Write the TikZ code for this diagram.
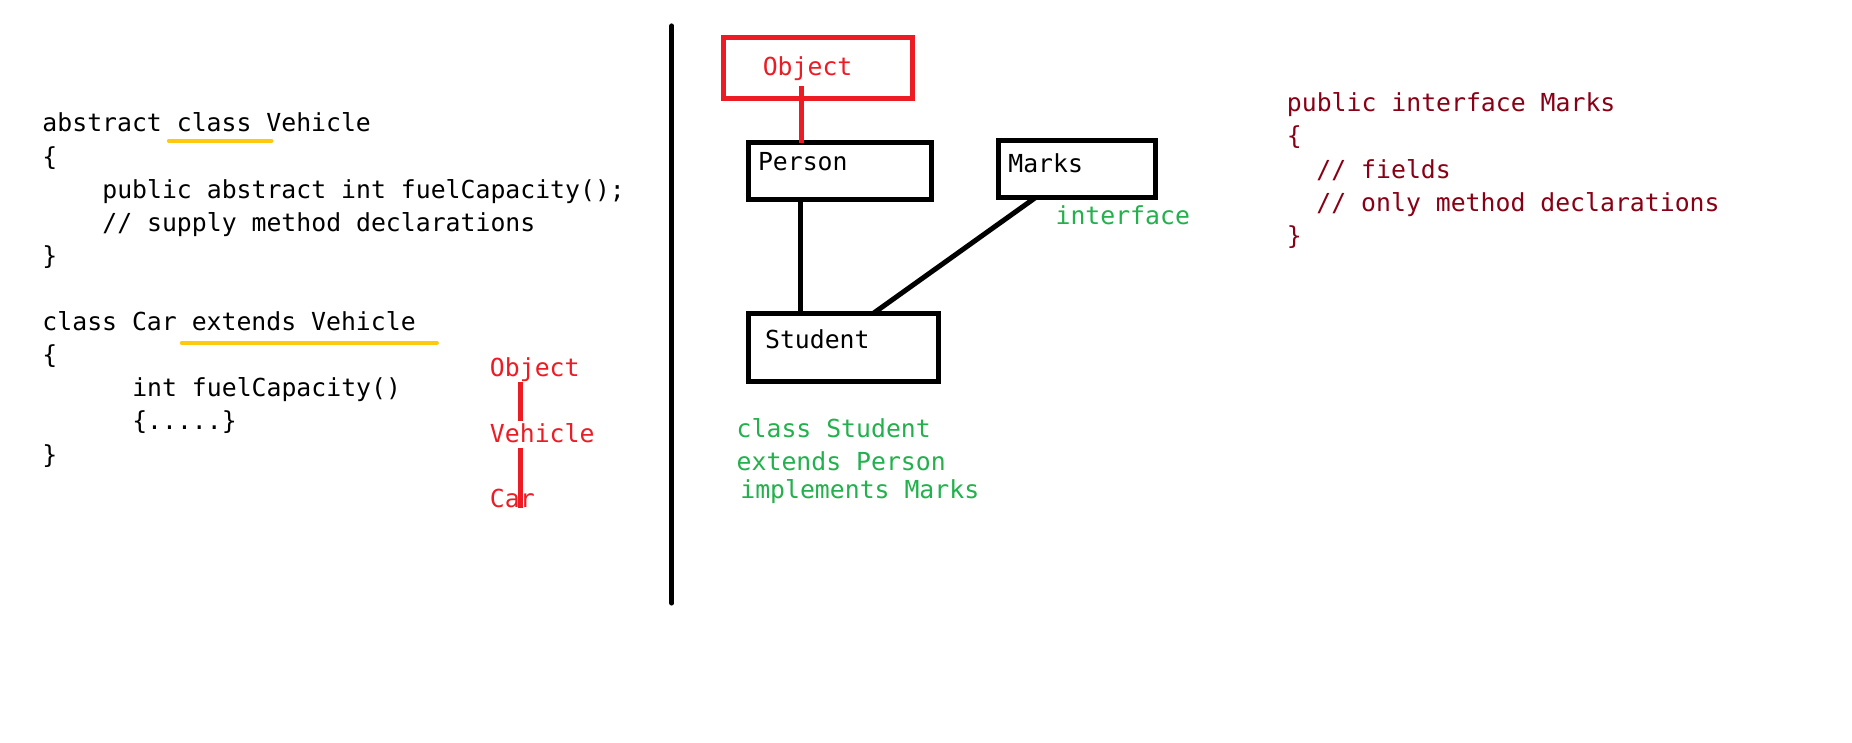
\documentclass[tikz,border=0pt]{standalone}
\usepackage{fontspec}
\setmainfont{DejaVu Sans Mono}
\definecolor{pred}{HTML}{ED1C24}
\definecolor{pgreen}{HTML}{22B14C}
\definecolor{pdark}{HTML}{880015}
\definecolor{pgold}{HTML}{FFC90E}
\begin{document}
\begin{tikzpicture}[x=1pt,y=-1pt,
  txt/.style={anchor=base west, inner sep=0pt, outer sep=0pt, font=\fontsize{24.8}{30}\selectfont},
  boxnode/.style={draw=black, line width=5pt, inner sep=0pt, outer sep=0pt},
  objbox/.style={draw=pred, line width=5pt, inner sep=0pt, outer sep=0pt},
  conn/.style={line width=5pt, black},
  redconn/.style={line width=4.5pt, pred},
  goldline/.style={line width=4pt, pgold, line cap=round}]
\useasboundingbox[fill=white] (0,0) rectangle (1852,743);
\begin{scope}[xscale=0.9945, yscale=0.996]
% left code
\node[txt] (l1) at (42.7,132.5) {abstract class Vehicle};
\node[txt] (l2) at (42.7,165.7) {\{};
\node[txt] (l3) at (102.9,199) {public abstract int fuelCapacity();};
\node[txt] (l4) at (102.9,232.2) {// supply method declarations};
\node[txt] (l5) at (42.7,265.4) {\}};
\node[txt] (l6) at (42.7,331.9) {class Car extends Vehicle};
\node[txt] (l7) at (42.7,365.2) {\{};
\node[txt] (l8) at (133,398.4) {int fuelCapacity()};
\node[txt] (l9) at (133,431.6) {\{.....\}};
\node[txt] (l10) at (42.7,464.9) {\}};

\coordinate (u1a) at (169.8,141.3);
\coordinate (u1b) at (273,141.3);
\coordinate (u2a) at (182.8,344.3);
\coordinate (u2b) at (439.3,344.3);
\draw[goldline] (u1a) -- (u1b);
\draw[goldline] (u2a) -- (u2b);

% red stack
\node[txt, text=pred] (so) at (492.7,378.2) {Object};
\node[txt, text=pred] (sv) at (492.7,444.7) {Vehicle};
\node[txt, text=pred] (sc) at (492.7,510) {Car};
\coordinate (r1a) at (523.5,383.5);
\coordinate (r1b) at (523.5,422.6);
\coordinate (r2a) at (523.5,450);
\coordinate (r2b) at (523.5,510.5);
\draw[redconn] (r1a) -- (r1b);
\draw[redconn] (r2a) -- (r2b);

% divider
\coordinate (dtop) at (675.5,26);
\coordinate (dbot) at (675.5,605.5);
\draw[line width=5pt, line cap=round] (dtop) -- (dbot);

% boxes
\node[objbox, minimum width=189pt, minimum height=60.5pt] (object) at (822.7,68.3) {};
\node[txt, text=pred] (objtxt) at (767,75.5) {Object};
\node[boxnode, minimum width=183pt, minimum height=57pt] (person) at (844.7,172.1) {};
\node[txt] (persontxt) at (762.2,171.6) {Person};
\node[boxnode, minimum width=157pt, minimum height=57pt] (marks) at (1083.4,169.8) {};
\node[txt] (markstxt) at (1013.9,172.8) {Marks};
\node[boxnode, minimum width=190pt, minimum height=68pt] (student) at (848.3,348.5) {};
\node[txt] (studenttxt) at (769.3,349.7) {Student};
\node[txt, text=pgreen] (iface) at (1061.4,225) {interface};

\coordinate (ox) at (806,86.7);
\draw[redconn] (ox) -- (ox |- person.north);
\coordinate (psx) at (805,0);
\draw[conn] (person.south -| psx) -- (student.north -| psx);
\coordinate (mx) at (1041.2,0);
\coordinate (sx) at (878.5,0);
\draw[conn] (marks.south -| mx) -- (student.north -| sx);

\node[txt, text=pgreen] (g1) at (740.8,438.8) {class Student};
\node[txt, text=pgreen] (g2) at (740.8,472) {extends Person};
\node[txt, text=pgreen] (g3) at (744.4,500.5) {implements Marks};

% right code
\node[txt, text=pdark] (r1) at (1294,112.3) {public interface Marks};
\node[txt, text=pdark] (r2) at (1294,145.5) {\{};
\node[txt, text=pdark] (r3) at (1323.7,178.8) {// fields};
\node[txt, text=pdark] (r4) at (1323.7,212) {// only method declarations};
\node[txt, text=pdark] (r5) at (1294,245.3) {\}};
\end{scope}
\end{tikzpicture}
\end{document}
